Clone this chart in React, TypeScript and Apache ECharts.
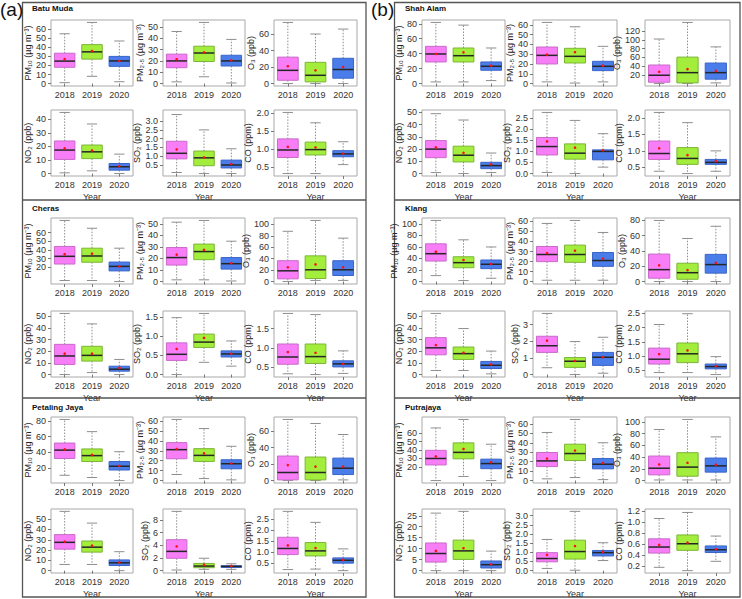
import React, { useEffect, useRef } from "react";
import * as echarts from "echarts";

const years = ["2018", "2019", "2020"];
const stations = ["Batu Muda", "Cheras", "Petaling Jaya", "Shah Alam", "Klang", "Putrajaya"];
const pollutantLabels = ["PM₁₀ (µg m⁻³)", "PM₂.₅ (µg m⁻³)", "O₃ (ppb)", "NO₂ (ppb)", "SO₂ (ppb)", "CO (ppm)"];
const panelLetters = ["(a)", "(b)"];

// each box: [min, Q1, median, Q3, max, mean] for 2018, 2019, 2020
const batuMuda = [
  [[1, 18, 24.8, 33.5, 55, 27], [8, 27, 35, 43, 67.5, 36], [2, 19, 25, 30, 47, 25]],
  [[1.5, 14, 20, 26, 46, 21.5], [6, 19.5, 27, 33, 54, 27.5], [0.5, 15.5, 20, 25, 39, 20.5]],
  [[0, 4, 16, 32, 74, 21], [0, 2, 10, 25.7, 60, 16], [0, 6.5, 17, 30.6, 66, 20]],
  [[0.5, 10.4, 17.3, 24, 45, 18.5], [2, 11, 16, 21, 36.5, 17], [0, 2.5, 5, 7.4, 14.3, 5.5]],
  [[0.06, 0.84, 1.16, 1.85, 3.38, 1.38], [0, 0.45, 0.9, 1.29, 2.5, 0.92], [0, 0.32, 0.49, 0.77, 1.42, 0.56]],
  [[0.31, 0.76, 0.97, 1.28, 2.02, 1.06], [0.31, 0.83, 0.98, 1.19, 1.73, 1.04], [0.56, 0.78, 0.86, 0.95, 1.2, 0.87]],
];
const cheras = [
  [[4.7, 23.7, 32.6, 44, 74, 35], [4.7, 25.8, 33, 42, 65, 35.7], [3.5, 15.8, 21, 26, 42, 21]],
  [[1.5, 14.3, 20.8, 29.5, 51.5, 23.4], [1.5, 19, 26, 32.5, 53, 27.5], [0.5, 10.8, 15.5, 20.8, 35, 16]],
  [[0, 4.7, 18.8, 36.5, 88, 25], [2, 5.3, 20.6, 45, 107, 30], [2, 10.6, 20.6, 36.5, 76, 25]],
  [[0, 8.7, 16, 26, 52.6, 18], [1.7, 11.6, 16.5, 24.3, 43.6, 18], [0, 2.9, 4.6, 7.2, 13, 5.8]],
  [[0, 0.37, 0.53, 0.83, 1.49, 0.67], [0.32, 0.71, 0.85, 1.06, 1.6, 0.96], [0.22, 0.46, 0.54, 0.62, 0.88, 0.55]],
  [[0.32, 0.57, 0.76, 1.1, 1.9, 0.89], [0.3, 0.59, 0.77, 1.1, 1.87, 0.87], [0.33, 0.5, 0.58, 0.66, 0.92, 0.58]],
];
const petalingJaya = [
  [[11, 32.4, 43, 52, 82, 44], [8.2, 28.5, 36, 44.5, 66.5, 37], [4.3, 17.7, 22.5, 28.5, 41, 23]],
  [[6.1, 22, 31.2, 38.3, 61.7, 31.9], [2, 19.3, 25.4, 32.2, 52.5, 27.5], [0.7, 11.9, 17, 21, 34.6, 17.3]],
  [[0, 0.8, 9.8, 29.8, 74.3, 18.8], [0, 0.8, 9.8, 28.6, 69.4, 17], [0.8, 7.3, 15, 27.3, 56, 17]],
  [[6, 20.9, 27.5, 35, 57.6, 28.2], [6, 18, 22.8, 28.8, 46.2, 24.4], [0, 5, 7.6, 10.4, 18.4, 8]],
  [[0.1, 1.95, 3.03, 4.87, 9.33, 3.8], [0.2, 0.46, 0.72, 1.13, 1.95, 0.9], [0.2, 0.5, 0.67, 0.77, 1.08, 0.72]],
  [[0.2, 0.88, 1.16, 1.67, 2.85, 1.3], [0.22, 0.82, 1.05, 1.43, 2.35, 1.18], [0.15, 0.49, 0.62, 0.73, 1.14, 0.64]],
];
const shahAlam = [
  [[2.2, 28.9, 39.6, 49.8, 81.8, 39.6], [2.2, 28.9, 37.3, 47.6, 78.2, 41.8], [4, 17.8, 23.1, 28.9, 47.6, 24]],
  [[1.7, 20, 28.8, 37.3, 62.4, 29.5], [0.5, 21, 27.8, 36, 58, 32], [1.7, 13.2, 17.6, 22.7, 38, 18.3]],
  [[0, 3, 19, 42.5, 102, 27], [0, 1.5, 25, 60.6, 140, 33], [1.5, 10, 25, 47, 84, 29]],
  [[0.8, 13, 20, 27, 49, 21.4], [0, 9.5, 15, 22.4, 43.8, 17], [0.8, 4, 6.5, 9.2, 16.8, 7.6]],
  [[0.05, 0.84, 1.22, 1.63, 2.76, 1.45], [0, 0.65, 0.92, 1.34, 2.4, 1.17], [0.29, 0.62, 1.0, 1.07, 1.8, 1.05]],
  [[0.38, 0.74, 0.92, 1.3, 2.17, 1.08], [0.31, 0.59, 0.77, 1.1, 1.86, 0.87], [0.38, 0.59, 0.65, 0.74, 1.0, 0.69]],
];
const klang = [
  [[10.3, 35.6, 48.3, 65.5, 106, 51.7], [1.7, 24, 32.8, 43, 72.4, 37.4], [5.7, 22.4, 30, 37.4, 60, 30.5]],
  [[1.3, 19.9, 27, 35, 58, 28.5], [1.3, 19.2, 27, 36.4, 61, 30.8], [1.3, 15.2, 21, 29, 49, 23]],
  [[0, 4.4, 15.6, 36, 80, 21.3], [0, 3, 11.6, 24, 56.4, 15], [0, 11, 22.2, 35.6, 72.4, 24.4]],
  [[3.5, 17, 23, 31.8, 52.6, 25.4], [3.5, 13, 18, 23.7, 39.6, 18.8], [0.6, 5.2, 8, 11.3, 20.2, 8.7]],
  [[0.41, 1.33, 1.73, 2.3, 3.67, 2.04], [0, 0.43, 0.8, 1.02, 1.98, 0.82], [0.08, 0.55, 1.04, 1.33, 2.24, 1.04]],
  [[0.42, 0.72, 0.89, 1.28, 2.11, 1.07], [0.42, 0.77, 1.08, 1.46, 2.49, 1.2], [0.35, 0.55, 0.63, 0.72, 0.98, 0.65]],
];
const putrajaya = [
  [[4, 22.4, 30, 39.6, 66, 32.4], [8.8, 29.6, 37.2, 48.4, 76, 41.2], [4, 18, 24, 29.2, 46.8, 25.6]],
  [[1.8, 14.8, 20.8, 29.7, 50.9, 23.3], [3.2, 21.2, 28.6, 38.5, 64.7, 31.8], [1, 12.4, 17.3, 23.3, 40, 18.7]],
  [[1, 9.7, 21, 41.7, 86.9, 27.4], [1, 7.4, 22.9, 47.4, 104, 30.3], [1, 14.3, 25, 38.3, 74.3, 26.9]],
  [[0, 3.9, 7.8, 12.6, 26.2, 9], [0, 5.1, 9, 13.9, 27, 10.2], [0, 1.2, 2.7, 4.4, 8.9, 2.9]],
  [[0.12, 0.48, 0.66, 0.98, 1.7, 0.86], [0.02, 0.63, 1.04, 1.66, 3.23, 1.34], [0.55, 0.8, 0.98, 1.1, 1.52, 1.02]],
  [[0.18, 0.44, 0.55, 0.7, 1.07, 0.59], [0.12, 0.49, 0.61, 0.77, 1.18, 0.63], [0.29, 0.45, 0.5, 0.57, 0.75, 0.51]],
];

// y-axis tick labels per panel
const batuMudaTicks = [[0, 10, 20, 30, 40, 50, 60], [0, 10, 20, 30, 40, 50], [0, 20, 40, 60], [0, 10, 20, 30, 40], [0, 0.5, 1, 1.5, 2, 2.5, 3, 3.5], [0.5, 1, 1.5, 2]];
const cherasTicks = [[10, 20, 30, 40, 50, 60, 70], [0, 10, 20, 30, 40, 50], [0, 20, 40, 60, 80, 100], [0, 10, 20, 30, 40, 50], [0, 0.5, 1, 1.5], [0.5, 1, 1.5]];
const petalingJayaTicks = [[20, 40, 60, 80], [0, 10, 20, 30, 40, 50, 60], [0, 20, 40, 60], [0, 10, 20, 30, 40, 50], [0, 2, 4, 6, 8], [0.5, 1, 1.5, 2, 2.5]];
const shahAlamTicks = [[0, 20, 40, 60, 80], [0, 10, 20, 30, 40, 50, 60], [0, 20, 40, 60, 80, 100, 120, 140], [0, 10, 20, 30, 40, 50], [0, 0.5, 1, 1.5, 2, 2.5], [0.5, 1, 1.5, 2]];
const klangTicks = [[0, 20, 40, 60, 80, 100], [0, 10, 20, 30, 40, 50, 60], [0, 20, 40, 60, 80], [0, 10, 20, 30, 40, 50], [0, 1, 2, 3], [0.5, 1, 1.5, 2, 2.5]];
const putrajayaTicks = [[10, 20, 30, 40, 50, 60, 70], [0, 10, 20, 30, 40, 50, 60], [0, 20, 40, 60, 80, 100], [0, 5, 10, 15, 20, 25], [0, 0.5, 1, 1.5, 2, 2.5, 3], [0.2, 0.4, 0.6, 0.8, 1, 1.2]];

const stationData = [batuMuda, cheras, petalingJaya, shahAlam, klang, putrajaya];
const stationTicks = [batuMudaTicks, cherasTicks, petalingJayaTicks, shahAlamTicks, klangTicks, putrajayaTicks];

// layout (pixels)
const colLefts = [[51, 163, 274], [422, 533, 645]];
const colWidths = [[82, 82, 83], [83, 84, 85]];
const rowTops = [20, 110, 218, 311, 417, 509];
const panelH = 66;
const FONT = "'Liberation Sans', Arial, sans-serif";

const boxFill = ["#f77ef7", "#a3ee3c", "#4a7de9"];
const boxStroke = ["#c96ac9", "#7cb536", "#3a65c8"];

function labelWidth(s: string) {
  let w = 0;
  for (const c of s) w += c === "." ? 2.5 : 5;
  return w;
}

function buildOption() {
  const grid: any[] = [];
  const xAxis: any[] = [];
  const yAxis: any[] = [];
  const series: any[] = [];

  stationData.forEach((panels, s) => {
    const col = s < 3 ? 0 : 1;
    const blk = s % 3;
    panels.forEach((boxes, k) => {
      const r = Math.floor(k / 3);
      const p = k % 3;
      const gi = grid.length;
      const ticks = stationTicks[s][k];
      const dec = ticks.some((t) => !Number.isInteger(t)) ? 1 : 0;
      const lo = Math.min(ticks[0], ...boxes.map((b) => b[0]));
      const hi = Math.max(ticks[ticks.length - 1], ...boxes.map((b) => b[4]));
      const pad = (hi - lo) * 0.04;
      const maxLab = Math.max(...ticks.map((t) => labelWidth(t.toFixed(dec))));

      grid.push({
        left: colLefts[col][p],
        top: rowTops[blk * 2 + r],
        width: colWidths[col][p],
        height: panelH,
        show: true,
        borderColor: "#a9a9a9",
        borderWidth: 1,
        backgroundColor: "transparent",
      });
      xAxis.push({
        type: "category",
        gridIndex: gi,
        data: years,
        boundaryGap: true,
        axisLine: { show: false },
        axisTick: { show: true, alignWithLabel: true, length: 3, lineStyle: { color: "#777" } },
        axisLabel: { fontSize: 9, color: "#333", margin: 4, fontFamily: FONT },
        splitLine: { show: false },
        name: r === 1 ? "Year" : "",
        nameLocation: "middle",
        nameGap: 16,
        nameTextStyle: { fontSize: 9, color: "#333", fontFamily: FONT },
      });
      yAxis.push({
        type: "value",
        gridIndex: gi,
        min: lo - pad,
        max: hi + pad,
        axisLine: { show: false },
        axisTick: { show: true, length: 3, customValues: ticks, lineStyle: { color: "#777" } },
        axisLabel: {
          fontSize: 9,
          color: "#333",
          margin: 5,
          fontFamily: FONT,
          customValues: ticks,
          formatter: (v: number) => v.toFixed(dec),
        },
        splitLine: { show: false },
        name: pollutantLabels[k],
        nameLocation: "middle",
        nameGap: 3 + maxLab,
        nameTextStyle: { fontSize: 9, color: "#222", fontFamily: FONT },
      });
      series.push({
        type: "custom",
        xAxisIndex: gi,
        yAxisIndex: gi,
        encode: { x: 0, y: [1, 2, 3, 4, 5, 6] },
        data: boxes.map((b, i) => [years[i], ...b]),
        renderItem: (params: any, api: any) => {
          const i = params.dataIndex;
          const x = api.value(0);
          const pMin = api.coord([x, api.value(1)]);
          const pQ1 = api.coord([x, api.value(2)]);
          const pMed = api.coord([x, api.value(3)]);
          const pQ3 = api.coord([x, api.value(4)]);
          const pMax = api.coord([x, api.value(5)]);
          const pMean = api.coord([x, api.value(6)]);
          const bw = api.size([1, 0])[0] * 0.75;
          const cx = pMed[0];
          const cap = bw * 0.25;
          const gray = "#8e8e8e";
          return {
            type: "group",
            children: [
              { type: "line", shape: { x1: cx, y1: pQ3[1], x2: cx, y2: pMax[1] }, style: { stroke: gray, lineWidth: 1, lineDash: [1.5, 1.5] } },
              { type: "line", shape: { x1: cx, y1: pQ1[1], x2: cx, y2: pMin[1] }, style: { stroke: gray, lineWidth: 1, lineDash: [1.5, 1.5] } },
              { type: "line", shape: { x1: cx - cap, y1: pMax[1], x2: cx + cap, y2: pMax[1] }, style: { stroke: gray, lineWidth: 1 } },
              { type: "line", shape: { x1: cx - cap, y1: pMin[1], x2: cx + cap, y2: pMin[1] }, style: { stroke: gray, lineWidth: 1 } },
              {
                type: "rect",
                shape: { x: cx - bw / 2, y: pQ3[1], width: bw, height: pQ1[1] - pQ3[1] },
                style: { fill: boxFill[i], stroke: boxStroke[i], lineWidth: 1 },
              },
              { type: "line", shape: { x1: cx - bw / 2, y1: pMed[1], x2: cx + bw / 2, y2: pMed[1] }, style: { stroke: "#262626", lineWidth: 1.5 } },
              { type: "circle", shape: { cx, cy: pMean[1], r: 1.3 }, style: { fill: "#ff1010" } },
            ],
          };
        },
      });
    });
  });

  const graphic: any[] = [];
  const frames = [
    { x: 22.5, w: 343.5 },
    { x: 394.5, w: 345.5 },
  ];
  frames.forEach((f, c) => {
    graphic.push({ type: "rect", shape: { x: f.x, y: 2.5, width: f.w, height: 594.5 }, style: { fill: "none", stroke: "#555", lineWidth: 1.3 } });
    graphic.push({ type: "line", shape: { x1: f.x, y1: 200, x2: f.x + f.w, y2: 200 }, style: { stroke: "#555", lineWidth: 1.3 } });
    graphic.push({ type: "line", shape: { x1: f.x, y1: 398, x2: f.x + f.w, y2: 398 }, style: { stroke: "#555", lineWidth: 1.3 } });
    graphic.push({
      type: "text",
      x: c === 0 ? 0 : 371,
      y: 0,
      style: { text: panelLetters[c], fontSize: 19, fontFamily: FONT, fill: "#111" },
    });
  });
  const labelY = [4, 204, 403];
  stations.forEach((name, s) => {
    const col = s < 3 ? 0 : 1;
    graphic.push({
      type: "text",
      x: col === 0 ? 32 : 405,
      y: labelY[s % 3],
      style: { text: name, fontSize: 8, fontWeight: "bold", fontFamily: FONT, fill: "#111" },
    });
  });

  return {
    animation: false,
    backgroundColor: "#ffffff",
    textStyle: { fontFamily: FONT },
    grid,
    xAxis,
    yAxis,
    series,
    graphic,
  };
}

export default function App() {
  const ref = useRef<HTMLDivElement>(null);
  useEffect(() => {
    if (!ref.current) return;
    const chart = echarts.init(ref.current, null, { renderer: "svg" });
    chart.setOption(buildOption() as any);
    return () => chart.dispose();
  }, []);
  return (
    <div
      ref={ref}
      style={{ position: "absolute", left: 0, top: 0, width: 742, height: 599, background: "#fff" }}
    />
  );
}
